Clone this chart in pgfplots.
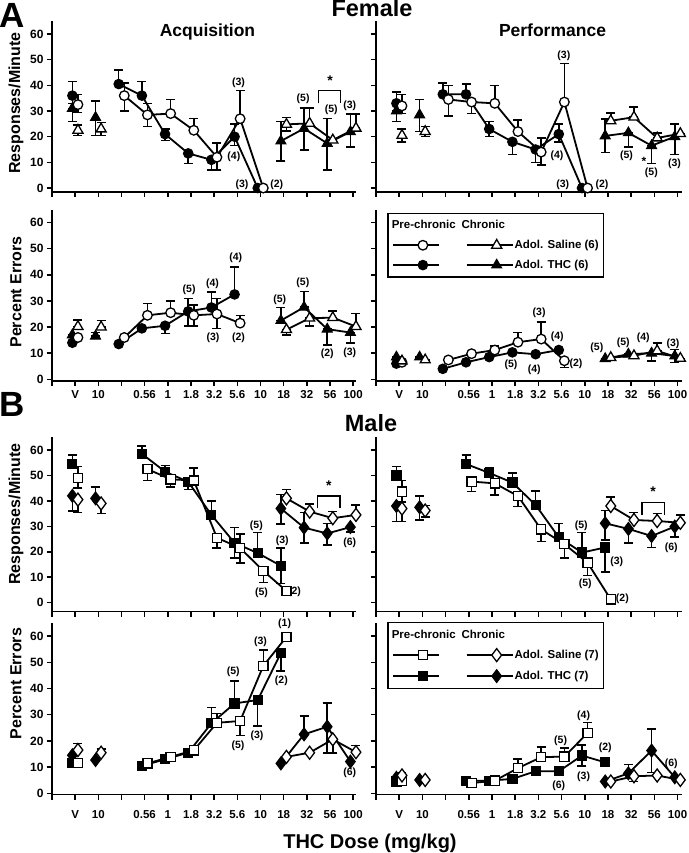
\documentclass[border=0pt]{standalone}
\usepackage{fontspec}
\setmainfont{Liberation Sans}
\usepackage{pgfplots}
\pgfplotsset{compat=1.18}
\newcommand\fs[1]{\fontsize{#1}{#1}\selectfont\bfseries}
\tikzset{ann/.style={font=\fs{10.5}, inner sep=0pt}}
\pgfplotsset{
 table/tf/.style={x expr=\thisrow{x}-0.12, y=y, y error plus=ep, y error minus=em, row sep=\\},
 table/to/.style={x expr=\thisrow{x}+0.12, y=y, y error plus=ep, y error minus=em, row sep=\\},
 panel/.style={scale only axis, clip=false, axis x line*=bottom, axis y line*=left,
   axis line style={-, line width=1.6pt, black}, xmin=0, ymax=65,
   xtick={0,...,13}, ytick={0,10,...,60}, tick align=outside, major tick length=5pt,
   tick style={line width=1.5pt, black}, xticklabels={}, yticklabels={},
   xticklabel style={font=\fs{11.5}}, yticklabel style={font=\fs{12}}},
 L/.style={width=303.5pt, xmax=13.1, yticklabels={0,10,20,30,40,50,60}},
 R/.style={width=306.2pt, xmax=13.2},
 XL/.style={xticklabels={{},V,10,{},0.56,1,1.8,3.2,5.6,10,18,32,56,100}},
 base/.style={forget plot, black, line width=1.8pt,
   error bars/y dir=both, error bars/y explicit,
   error bars/error bar style={line width=1.5pt, solid, black},
   error bars/error mark options={rotate=90, line width=1.5pt, mark size=4.5pt, black}},
 filled/.style={mark options={fill=black, draw=black, line width=1pt, solid}},
 open/.style={mark options={fill=white, draw=black, line width=1.3pt, solid}},
 C/.style={mark=*, mark size=4.8pt},
 T/.style={mark=triangle*, mark size=5.8pt},
 S/.style={mark=square*, mark size=4.6pt},
 D/.style={mark=diamond*, mark size=6.5pt},
 lg/.style={black, line width=1.8pt, legend image code/.code={\path (0pt,0pt) -- (14pt,0pt);
   \draw[mark repeat=2,mark phase=2] plot coordinates {(14pt,0pt) (30pt,0pt) (46pt,0pt)};}},
 legsty/.style={legend columns=2, legend cell align=left,
   legend style={draw=black, line width=1.3pt, fill=white, anchor=north west,
     inner xsep=4pt, inner ysep=6pt, row sep=8pt, font=\fs{11.5},
     nodes={inner sep=1pt},
     /tikz/every even column/.append style={column sep=24pt}}},
}
\begin{document}
\begin{tikzpicture}
\path[use as bounding box] (0pt,0pt) rectangle (688pt,853pt);
% ---------------- Female Acquisition responses
\begin{axis}[panel, L, at={(52pt,661.1pt)}, anchor=south west, height=170.7pt, ymin=-1.5]
\addplot[base,C,filled,only marks] table[tf]{x y ep em\\1 36 5.5 3\\};
\addplot[base,C,filled] table[tf]{x y ep em\\3 40.5 5.5 0\\4 36 5.5 0\\5 21 2 2.5\\6 13.5 0 4\\7 11 0 4\\8 20 5 3.5\\9 0 0 0\\};
\addplot[base,T,filled,only marks] table[tf]{x y ep em\\1 31 0 5\\2 27.5 6.5 7\\};
\addplot[base,T,filled] table[tf]{x y ep em\\10 18.3 7.7 7.8\\11 23.2 8 8.4\\12 17.4 9.7 10.4\\13 21.9 6.9 6\\};
\addplot[base,C,open,only marks] table[to]{x y ep em\\1 32.5 4 3\\};
\addplot[base,C,open] table[to]{x y ep em\\3 36 5 6\\4 28.5 4.5 4.5\\5 29 5.5 0\\6 22.5 4.5 0\\7 12 5.5 5\\8 27 11 0\\9 0 0 0\\};
\addplot[base,T,open,only marks] table[to]{x y ep em\\1 22.5 2 2\\2 23 2.5 2.5\\};
\addplot[base,T,open] table[to]{x y ep em\\10 24.8 2.7 2.5\\11 25.2 6 0\\12 18.7 0 0\\13 23.3 5.5 0\\};
\node[ann] at (axis cs:8.05,41) {(3)};
\node[ann] at (axis cs:7.85,12) {(4)};
\node[ann] at (axis cs:8.2,1.3) {(3)};
\node[ann] at (axis cs:9.7,1.3) {(2)};
\node[ann] at (axis cs:10.84,34.6) {(5)};
\node[ann] at (axis cs:12.05,30.4) {(5)};
\node[ann] at (axis cs:12.85,32) {(3)};
\draw[line width=1.5pt] (axis cs:11.5,33) -- (axis cs:11.5,38) -- (axis cs:12.45,38) -- (axis cs:12.45,33);
\node[font=\fs{14}, inner sep=0pt] at (axis cs:12,42) {*};
\end{axis}
% ---------------- Female Performance responses
\begin{axis}[panel, R, at={(376pt,661.1pt)}, anchor=south west, height=170.7pt, ymin=-1.5]
\addplot[base,C,filled,only marks] table[tf]{x y ep em\\1 33 4.5 3\\};
\addplot[base,C,filled] table[tf]{x y ep em\\3 36.5 4.5 0\\4 36.5 4 0\\5 23 3 3\\6 18 0 5\\7 15 0 5\\8 21 4 3\\9 0 0 0\\};
\addplot[base,T,filled,only marks] table[tf]{x y ep em\\1 30 0 4\\2 28.5 6 6.5\\};
\addplot[base,T,filled] table[tf]{x y ep em\\10 20.3 6.5 6.5\\11 21.5 0 5.5\\12 16.5 0 7\\13 20 5 7\\};
\addplot[base,C,open,only marks] table[to]{x y ep em\\1 32 4.5 3\\};
\addplot[base,C,open] table[to]{x y ep em\\3 34.5 5.5 6.5\\4 33.5 0 4.5\\5 33 7 0\\6 22 4.5 0\\7 14 5.5 5\\8 33.5 15 0\\9 0 0 0\\};
\addplot[base,T,open,only marks] table[to]{x y ep em\\1 20.5 2.5 2.5\\2 22 2 2\\};
\addplot[base,T,open] table[to]{x y ep em\\10 26.2 3 0\\11 27.6 4 0\\12 19.5 2 0\\13 21.2 0 0\\};
\node[ann] at (axis cs:8.1,51.5) {(3)};
\node[ann] at (axis cs:7.8,12.4) {(4)};
\node[ann] at (axis cs:8.05,1.3) {(3)};
\node[ann] at (axis cs:9.74,1.3) {(2)};
\node[ann] at (axis cs:10.8,12.4) {(5)};
\node[font=\fs{12}, inner sep=0pt] at (axis cs:11.55,10.5) {*};
\node[ann] at (axis cs:11.87,5.9) {(5)};
\node[ann] at (axis cs:12.87,9.5) {(3)};
\end{axis}
% ---------------- Female Acquisition errors
\begin{axis}[panel, L, XL, at={(52pt,471.9pt)}, anchor=south west, height=171.5pt, ymin=-0.7,
  xticklabel style={yshift=-1pt}]
\addplot[base,C,filled,only marks] table[tf]{x y ep em\\1 14 0 0\\};
\addplot[base,C,filled] table[tf]{x y ep em\\3 13.5 0 0\\4 19.5 0 0\\5 20.5 0 3\\6 26 5 5.5\\7 27.5 6 0\\8 32.5 10.5 0\\};
\addplot[base,T,filled,only marks] table[tf]{x y ep em\\1 17 0 0\\2 16.5 1.5 0\\};
\addplot[base,T,filled] table[tf]{x y ep em\\10 22.5 5 0\\11 27.6 6 0\\12 19.2 0 6\\13 17.9 0 4\\};
\addplot[base,C,open,only marks] table[to]{x y ep em\\1 16 0 0\\};
\addplot[base,C,open] table[to]{x y ep em\\3 16 0 0\\4 24.5 4.5 0\\5 25.5 4.5 0\\6 24.5 4 4\\7 25 6 5.5\\8 21.5 3 0\\};
\addplot[base,T,open,only marks] table[to]{x y ep em\\1 20.2 2.5 0\\2 20 2.5 0\\};
\addplot[base,T,open] table[to]{x y ep em\\10 19 0 2\\11 23.4 0 3\\12 23.6 2.5 0\\13 20.2 5 0\\};
\node[ann] at (axis cs:5.92,34.2) {(5)};
\node[ann] at (axis cs:6.93,36.5) {(4)};
\node[ann] at (axis cs:7.93,46.6) {(4)};
\node[ann] at (axis cs:6.95,15.7) {(3)};
\node[ann] at (axis cs:8.05,15.7) {(2)};
\node[ann] at (axis cs:9.83,30.6) {(5)};
\node[ann] at (axis cs:10.83,37) {(5)};
\node[ann] at (axis cs:11.88,9.6) {(2)};
\node[ann] at (axis cs:12.85,10.2) {(3)};
\end{axis}
% ---------------- Female Performance errors
\begin{axis}[panel, R, XL, legsty, at={(376pt,471.9pt)}, anchor=south west, height=171.5pt, ymin=-0.7,
  xticklabel style={yshift=-1pt}, legend style={at={(rel axis cs:0.037,0.981)}}]
\addplot[base,C,filled,only marks] table[tf]{x y ep em\\1 6 0 0\\};
\addplot[base,C,filled] table[tf]{x y ep em\\3 4 0 0\\4 6.5 0 0\\5 8.5 0 0\\6 10.3 0 0\\7 9.6 0 0\\8 11.2 0 0\\};
\addplot[base,T,filled,only marks] table[tf]{x y ep em\\1 8.5 0 0\\2 8.5 0 0\\};
\addplot[base,T,filled] table[tf]{x y ep em\\10 7.9 0 0\\11 9.6 0 0\\12 10 0 3\\13 8.9 2.5 2.5\\};
\addplot[base,C,open,only marks] table[to]{x y ep em\\1 6.5 0 0\\};
\addplot[base,C,open] table[to]{x y ep em\\3 7.4 0 0\\4 9.8 0 0\\5 11.2 1.5 0\\6 14.2 3.8 0\\7 15.4 6.5 0\\8 7.1 0 2.5\\};
\addplot[base,T,open,only marks] table[to]{x y ep em\\1 7 0 0\\2 7.4 0 0\\};
\addplot[base,T,open] table[to]{x y ep em\\10 8.3 0 0\\11 9 0 0\\12 10.9 3 0\\13 8 0 0\\};
\node[ann] at (axis cs:5.82,5.5) {(5)};
\node[ann] at (axis cs:6.82,3.8) {(4)};
\node[ann] at (axis cs:7.03,25.3) {(3)};
\node[ann] at (axis cs:7.81,16.3) {(4)};
\node[ann] at (axis cs:8.62,5.9) {(2)};
\node[ann] at (axis cs:9.52,11.9) {(5)};
\node[ann] at (axis cs:10.66,14) {(5)};
\node[ann] at (axis cs:11.52,15.7) {(4)};
\node[ann] at (axis cs:12.8,13.5) {(3)};
\addlegendimage{empty legend}\addlegendentry{\makebox[0pt][l]{\hspace*{-49pt}Pre-chronic}}
\addlegendimage{empty legend}\addlegendentry{\makebox[0pt][l]{\hspace*{-53pt}Chronic}}
\addlegendimage{lg,C,open}\addlegendentry{}
\addlegendimage{lg,T,open}\addlegendentry{Adol. Saline (6)}
\addlegendimage{lg,C,filled}\addlegendentry{}
\addlegendimage{lg,T,filled}\addlegendentry{Adol. THC (6)}
\end{axis}
% ---------------- Male Acquisition responses
\begin{axis}[panel, L, at={(52pt,241.4pt)}, anchor=south west, height=174.3pt, ymin=-3.5]
\addplot[base,S,filled,only marks] table[tf]{x y ep em\\1 54.5 3.5 0\\};
\addplot[base,S,filled] table[tf]{x y ep em\\4 58.5 3 0\\5 51.5 2.5 0\\6 47.5 0 3\\7 34.5 5.5 0\\8 23.5 6 6\\9 19.5 8 0\\10 14.5 7 7\\};
\addplot[base,D,filled,only marks] table[tf]{x y ep em\\1 42 0 6\\2 41 4.5 0\\};
\addplot[base,D,filled] table[tf]{x y ep em\\10 37 5.5 6\\11 29.5 6 6\\12 27.2 4 4.5\\13 29.7 0 2\\};
\addplot[base,S,open,only marks] table[to]{x y ep em\\1 49 4.5 4\\};
\addplot[base,S,open] table[to]{x y ep em\\4 52.5 0 4.5\\5 48.5 0 3\\6 48 5 0\\7 25.5 0 4\\8 21.5 5.5 6\\9 12.5 0 4.5\\10 4.6 0 0\\};
\addplot[base,D,open,only marks] table[to]{x y ep em\\1 40.5 0 5\\2 39 0 4\\};
\addplot[base,D,open] table[to]{x y ep em\\10 41 3.5 0\\11 35.8 3 0\\12 33.2 2.6 0\\13 34.5 3.9 0\\};
\node[ann] at (axis cs:8.82,30.1) {(5)};
\node[ann] at (axis cs:9.94,24.2) {(3)};
\node[ann] at (axis cs:9.04,3.9) {(5)};
\node[ann] at (axis cs:10.47,4.3) {(2)};
\node[ann] at (axis cs:12.85,23.5) {(6)};
\draw[line width=1.5pt] (axis cs:11.45,37.1) -- (axis cs:11.45,41.9) -- (axis cs:12.43,41.9) -- (axis cs:12.43,37.1);
\node[font=\fs{14}, inner sep=0pt] at (axis cs:11.95,46) {*};
\end{axis}
% ---------------- Male Performance responses
\begin{axis}[panel, R, at={(376pt,241.4pt)}, anchor=south west, height=174.3pt, ymin=-3.5]
\addplot[base,S,filled,only marks] table[tf]{x y ep em\\1 50 3.5 0\\};
\addplot[base,S,filled] table[tf]{x y ep em\\4 54.5 3.5 0\\5 51 2 0\\6 47.2 3.8 0\\7 38.4 5.5 0\\8 25.7 5.5 0\\9 19.7 7.8 0\\10 21.7 0 9.7\\};
\addplot[base,D,filled,only marks] table[tf]{x y ep em\\1 38 0 6\\2 37.5 4.5 5\\};
\addplot[base,D,filled] table[tf]{x y ep em\\10 31.2 5 6.5\\11 29 0 5.5\\12 26.2 0 4.5\\13 29.9 0 4\\};
\addplot[base,S,open,only marks] table[to]{x y ep em\\1 43.6 4.5 4\\};
\addplot[base,S,open] table[to]{x y ep em\\4 47.6 0 4\\5 46.9 0 4.5\\6 41.9 0 4\\7 28.8 0 4.8\\8 23 0 5.5\\9 15.7 0 5\\10 1.3 0 0\\};
\addplot[base,D,open,only marks] table[to]{x y ep em\\1 37 0 5\\2 36.2 2 2.5\\};
\addplot[base,D,open] table[to]{x y ep em\\10 38 3.5 0\\11 32.5 3 0\\12 32.1 2.9 0\\13 31.4 3 0\\};
\node[ann] at (axis cs:8.85,30.1) {(5)};
\node[ann] at (axis cs:10.38,16.1) {(3)};
\node[ann] at (axis cs:9.02,7.3) {(5)};
\node[ann] at (axis cs:10.62,1.4) {(2)};
\node[ann] at (axis cs:12.73,21.4) {(6)};
\draw[line width=1.5pt] (axis cs:11.47,34.5) -- (axis cs:11.47,39.3) -- (axis cs:12.44,39.3) -- (axis cs:12.44,34.5);
\node[font=\fs{14}, inner sep=0pt] at (axis cs:11.94,43.5) {*};
\end{axis}
% ---------------- Male Acquisition errors
\begin{axis}[panel, L, XL, at={(52pt,58.4pt)}, anchor=south west, height=171.6pt, ymin=-0.5,
  xticklabel style={yshift=-7pt}]
\addplot[base,S,filled,only marks] table[tf]{x y ep em\\1 11.5 0 0\\};
\addplot[base,S,filled] table[tf]{x y ep em\\4 10.4 0 0\\5 13 0 0\\6 15.5 0 0\\7 26.7 6 0\\8 34.3 8.5 0\\9 35.6 0 10\\10 53.6 0 7\\};
\addplot[base,D,filled,only marks] table[tf]{x y ep em\\1 14.5 0 0\\2 12.7 0 0\\};
\addplot[base,D,filled] table[tf]{x y ep em\\10 11.4 0 0\\11 22.5 7 0\\12 25.4 9 10\\13 12.1 0 0\\};
\addplot[base,S,open,only marks] table[to]{x y ep em\\1 11.5 0 0\\};
\addplot[base,S,open] table[to]{x y ep em\\4 11.4 0 0\\5 13.9 0 0\\6 16.4 0 0\\7 26.9 3.5 0\\8 27.6 0 5.5\\9 48.6 6 0\\10 59.7 0 0\\};
\addplot[base,D,open,only marks] table[to]{x y ep em\\1 16.5 2.5 0\\2 15.5 1.5 0\\};
\addplot[base,D,open] table[to]{x y ep em\\10 13.9 0 0\\11 15.5 0 0\\12 20.6 0 5.3\\13 15.7 2.5 0\\};
\node[ann] at (axis cs:7.82,46.3) {(5)};
\node[ann] at (axis cs:9.0,57.7) {(3)};
\node[ann] at (axis cs:10.04,64.8) {(1)};
\node[ann] at (axis cs:9.9,43.1) {(2)};
\node[ann] at (axis cs:8.85,22.1) {(3)};
\node[ann] at (axis cs:8.03,18) {(5)};
\node[ann] at (axis cs:12.85,8) {(6)};
\end{axis}
% ---------------- Male Performance errors
\begin{axis}[panel, R, XL, legsty, at={(376pt,58.4pt)}, anchor=south west, height=171.6pt, ymin=-0.5,
  xticklabel style={yshift=-7pt}, legend style={at={(rel axis cs:0.037,1.005)}}]
\addplot[base,S,filled,only marks] table[tf]{x y ep em\\1 4.5 0 0\\};
\addplot[base,S,filled] table[tf]{x y ep em\\4 4.8 0 0\\5 4.8 0 0\\6 5.5 0 0\\7 8.4 0 0\\8 8.4 0 0\\9 14.4 4 4\\10 11.8 0 0\\};
\addplot[base,D,filled,only marks] table[tf]{x y ep em\\1 5.9 0 0\\2 5.1 0 0\\};
\addplot[base,D,filled] table[tf]{x y ep em\\10 4.5 0 0\\11 7.6 3.3 0\\12 16.3 8.2 8.3\\13 6.1 0 0\\};
\addplot[base,S,open,only marks] table[to]{x y ep em\\1 4.8 0 0\\};
\addplot[base,S,open] table[to]{x y ep em\\4 3.9 0 0\\5 4.8 0 0\\6 9.6 3.5 0\\7 13.8 3.8 0\\8 14 3.2 0\\9 23 4 0\\};
\addplot[base,D,open,only marks] table[to]{x y ep em\\1 6.8 1 0\\2 5.1 0 0\\};
\addplot[base,D,open] table[to]{x y ep em\\10 4.5 0 0\\11 6.5 0 2\\12 6.8 0 0\\13 5.1 0 0\\};
\node[ann] at (axis cs:7.96,19.9) {(5)};
\node[ann] at (axis cs:8.95,29.7) {(4)};
\node[ann] at (axis cs:9.88,17.3) {(2)};
\node[ann] at (axis cs:7.88,2.9) {(6)};
\node[ann] at (axis cs:8.95,6.4) {(3)};
\node[ann] at (axis cs:12.73,11.2) {(6)};
\addlegendimage{empty legend}\addlegendentry{\makebox[0pt][l]{\hspace*{-49pt}Pre-chronic}}
\addlegendimage{empty legend}\addlegendentry{\makebox[0pt][l]{\hspace*{-53pt}Chronic}}
\addlegendimage{lg,S,open}\addlegendentry{}
\addlegendimage{lg,D,open}\addlegendentry{Adol. Saline (7)}
\addlegendimage{lg,S,filled}\addlegendentry{}
\addlegendimage{lg,D,filled}\addlegendentry{Adol. THC (7)}
\end{axis}
% ---------------- titles and labels
\node[font=\fs{35}, anchor=base, inner sep=0pt] at (12.5pt,825pt) {A};
\node[font=\fs{35}, anchor=base, inner sep=0pt] at (12.5pt,436pt) {B};
\node[font=\fs{23.5}, anchor=base, inner sep=0pt] at (372pt,836pt) {Female};
\node[font=\fs{23.5}, anchor=base, inner sep=0pt] at (371pt,421pt) {Male};
\node[font=\fs{17.5}, anchor=base, inner sep=0pt] at (207.5pt,816pt) {Acquisition};
\node[font=\fs{17.5}, anchor=base, inner sep=0pt] at (552.5pt,816pt) {Performance};
\node[font=\fs{16}, rotate=90, inner sep=0pt] at (16pt,750pt) {Responses/Minute};
\node[font=\fs{16}, rotate=90, inner sep=0pt] at (16pt,561pt) {Percent Errors};
\node[font=\fs{16}, rotate=90, inner sep=0pt] at (16pt,339pt) {Responses/Minute};
\node[font=\fs{16}, rotate=90, inner sep=0pt] at (16pt,169.5pt) {Percent Errors};
\node[font=\fs{20}, anchor=base, inner sep=0pt] at (370pt,5pt) {THC Dose (mg/kg)};
\end{tikzpicture}
\end{document}
